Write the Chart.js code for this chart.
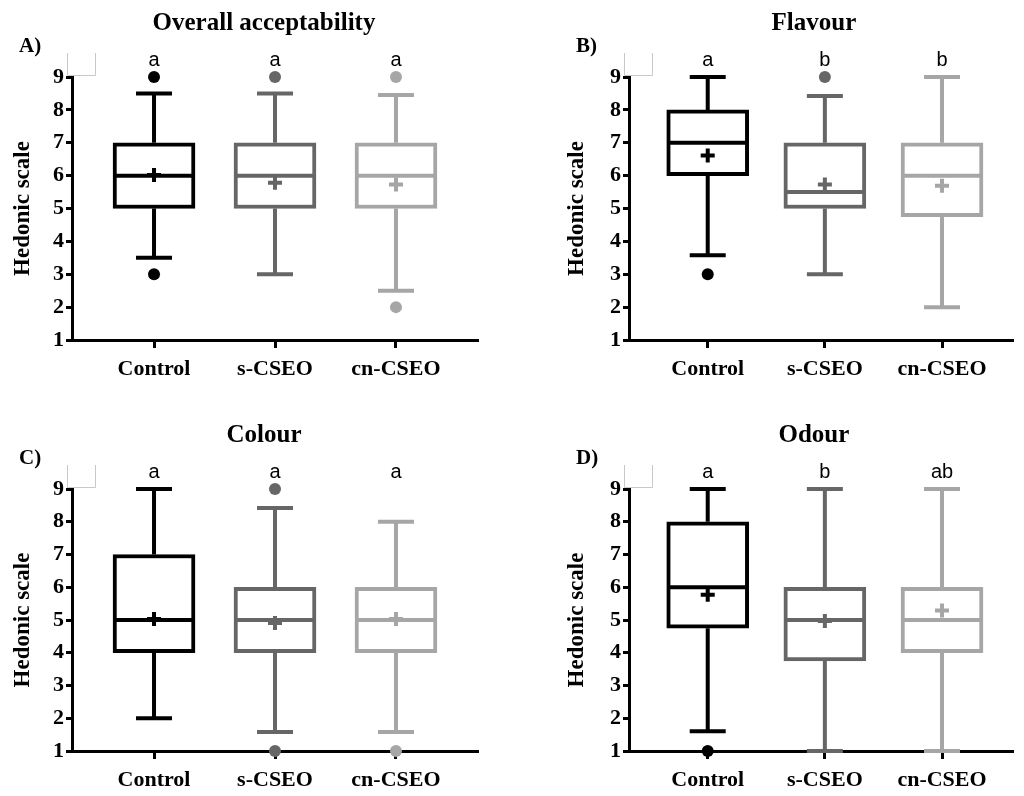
<!DOCTYPE html>
<html>
<head>
<meta charset="utf-8">
<script src="https://cdn.jsdelivr.net/npm/chart.js@4.4.0/dist/chart.umd.min.js"></script>
<style>
  body { margin: 0; background: #fff; }
  .panel { position: absolute; width: 512px; height: 398px; }
</style>
</head>
<body>
<div class="panel" style="left:0;top:0"><canvas id="chartA"></canvas></div>
<div class="panel" style="left:512px;top:0"><canvas id="chartB"></canvas></div>
<div class="panel" style="left:0;top:398px"><canvas id="chartC"></canvas></div>
<div class="panel" style="left:512px;top:398px"><canvas id="chartD"></canvas></div>
<script>
const groups = ['Control', 's-CSEO', 'cn-CSEO'];
const groupColors = ['#000000', '#666666', '#a6a6a6'];

// A) Overall acceptability
const overallLow = [3.5, 3, 2.5];
const overallQ1 = [5, 5, 5];
const overallMedian = [6, 6, 6];
const overallQ3 = [7, 7, 7];
const overallHigh = [8.5, 8.5, 8.45];
const overallMean = [6.02, 5.78, 5.73];
const overallOutliers = [[9, 3], [9], [9, 2]];
const overallLetters = ['a', 'a', 'a'];

// B) Flavour
const flavourLow = [3.58, 3, 2];
const flavourQ1 = [6, 5, 4.75];
const flavourMedian = [7, 5.5, 6];
const flavourQ3 = [8, 7, 7];
const flavourHigh = [9, 8.42, 9];
const flavourMean = [6.61, 5.73, 5.69];
const flavourOutliers = [[3], [9], []];
const flavourLetters = ['a', 'b', 'b'];

// C) Colour
const colourLow = [2, 1.58, 1.58];
const colourQ1 = [4, 4, 4];
const colourMedian = [5, 5, 5];
const colourQ3 = [7, 6, 6];
const colourHigh = [9, 8.42, 8];
const colourMean = [5.03, 4.91, 5.03];
const colourOutliers = [[], [9, 1], [1]];
const colourLetters = ['a', 'a', 'a'];

// D) Odour
const odourLow = [1.6, 1, 1];
const odourQ1 = [4.75, 3.75, 4];
const odourMedian = [6, 5, 5];
const odourQ3 = [8, 6, 6];
const odourHigh = [9, 9, 9];
const odourMean = [5.77, 4.97, 5.29];
const odourOutliers = [[1], [], []];
const odourLetters = ['a', 'b', 'ab'];

Chart.defaults.font.family = "'Liberation Serif', 'Times New Roman', serif";
Chart.defaults.color = '#000';

// whiskers, medians, titles and significance letters
const boxExtras = {
  id: 'boxExtras',
  beforeDatasetsDraw(chart, args, opts) {
    const ctx = chart.ctx;
    const x = chart.scales.x, y = chart.scales.y;
    ctx.save();
    ctx.lineWidth = 4;
    opts.low.forEach((lo, i) => {
      const px = x.getPixelForValue(i + 1);
      ctx.strokeStyle = groupColors[i];
      ctx.beginPath();
      ctx.moveTo(px, y.getPixelForValue(opts.q3[i]));
      ctx.lineTo(px, y.getPixelForValue(opts.high[i]));
      ctx.moveTo(px, y.getPixelForValue(opts.q1[i]));
      ctx.lineTo(px, y.getPixelForValue(lo));
      ctx.moveTo(px - 18, y.getPixelForValue(opts.high[i]));
      ctx.lineTo(px + 18, y.getPixelForValue(opts.high[i]));
      ctx.moveTo(px - 18, y.getPixelForValue(lo));
      ctx.lineTo(px + 18, y.getPixelForValue(lo));
      ctx.stroke();
    });
    ctx.restore();
  },
  afterDatasetsDraw(chart, args, opts) {
    const ctx = chart.ctx;
    const x = chart.scales.x, y = chart.scales.y;
    const area = chart.chartArea;
    ctx.save();
    ctx.lineWidth = 4;
    opts.median.forEach((m, i) => {
      const px = x.getPixelForValue(i + 1);
      const py = y.getPixelForValue(m);
      ctx.strokeStyle = groupColors[i];
      ctx.beginPath();
      ctx.moveTo(px - 39, py);
      ctx.lineTo(px + 39, py);
      ctx.stroke();
    });

    // faint corner box
    ctx.strokeStyle = '#c8c8c8';
    ctx.lineWidth = 1;
    ctx.beginPath();
    ctx.moveTo(area.left - 4.5, area.top - 24);
    ctx.lineTo(area.left - 4.5, area.top - 1.5);
    ctx.lineTo(area.left + 23.5, area.top - 1.5);
    ctx.lineTo(area.left + 23.5, area.top - 24);
    ctx.stroke();

    ctx.fillStyle = '#000';
    ctx.textBaseline = 'middle';
    ctx.textAlign = 'center';
    ctx.font = "bold 25px 'Liberation Serif'";
    ctx.fillText(opts.title, x.getPixelForValue(2) - 11, area.top - 53);
    ctx.textAlign = 'left';
    ctx.font = "bold 21px 'Liberation Serif'";
    ctx.fillText(opts.label, area.left - 53, area.top - 30);
    ctx.textAlign = 'center';
    ctx.font = "20px 'Liberation Sans'";
    opts.letters.forEach((t, i) => {
      ctx.fillText(t, x.getPixelForValue(i + 1), area.top - 17);
    });
    ctx.restore();
  }
};

function makeChart(id, p, left, top) {
  const outlierPts = [];
  const outlierCols = [];
  p.outliers.forEach((list, i) => list.forEach(v => {
    outlierPts.push({ x: i + 1, y: v });
    outlierCols.push(groupColors[i]);
  }));

  return new Chart(document.getElementById(id), {
    type: 'bar',
    data: {
      datasets: [
        {
          type: 'scatter',
          data: groups.map((g, i) => ({ x: i + 1, y: p.mean[i] })),
          pointStyle: 'cross',
          pointRadius: 7,
          pointBorderWidth: 4,
          pointBorderColor: groupColors,
          clip: false,
          order: 0,
        },
        {
          type: 'scatter',
          data: outlierPts,
          pointRadius: 6,
          pointBorderWidth: 0,
          pointBackgroundColor: outlierCols,
          clip: false,
          order: 1,
        },
        {
          type: 'bar',
          data: groups.map((g, i) => ({ x: i + 1, y: [p.q1[i], p.q3[i]] })),
          backgroundColor: '#fff',
          borderColor: groupColors,
          borderWidth: 4,
          borderSkipped: false,
          barThickness: 82,
          grouped: false,
          clip: false,
          order: 2,
        },
      ],
    },
    options: {
      responsive: true,
      maintainAspectRatio: false,
      animation: false,
      layout: { padding: { top: top ? 77 : 91, right: left ? 34 : 0, left: 0, bottom: 0 } },
      plugins: {
        legend: { display: false },
        tooltip: { enabled: false },
        boxExtras: p,
      },
      scales: {
        x: {
          type: 'linear',
          offset: false,
          min: left ? 0.322 : 0.328,
          max: left ? 3.678 : 3.606,
          afterBuildTicks: (s) => { s.ticks = groups.map((g, i) => ({ value: i + 1 })); },
          afterFit: (s) => { s.height = top ? 58 : 45; },
          ticks: {
            callback: (v) => groups[Math.round(v) - 1],
            font: { size: 22, weight: 'bold' },
            padding: 8,
            autoSkip: false,
            maxRotation: 0,
          },
          grid: { offset: false, drawOnChartArea: false, tickLength: 8, tickWidth: 3, tickColor: '#000' },
          border: { color: '#000', width: 3 },
        },
        y: {
          min: 1,
          max: 9,
          afterFit: (s) => { s.width = left ? 72 : 117; },
          ticks: { stepSize: 1, font: { size: 22, weight: 'bold' }, padding: 2 },
          grid: { drawOnChartArea: false, tickLength: 6, tickWidth: 3, tickColor: '#000' },
          border: { color: '#000', width: 3 },
          title: {
            display: true,
            text: 'Hedonic scale',
            font: { size: 23, weight: 'bold' },
            padding: { top: left ? 9 : 51, bottom: 0 },
          },
        },
      },
    },
    plugins: [boxExtras],
  });
}

makeChart('chartA', {
  title: 'Overall acceptability', label: 'A)', letters: overallLetters,
  low: overallLow, q1: overallQ1, median: overallMedian, q3: overallQ3,
  high: overallHigh, mean: overallMean, outliers: overallOutliers,
}, true, true);

makeChart('chartB', {
  title: 'Flavour', label: 'B)', letters: flavourLetters,
  low: flavourLow, q1: flavourQ1, median: flavourMedian, q3: flavourQ3,
  high: flavourHigh, mean: flavourMean, outliers: flavourOutliers,
}, false, true);

makeChart('chartC', {
  title: 'Colour', label: 'C)', letters: colourLetters,
  low: colourLow, q1: colourQ1, median: colourMedian, q3: colourQ3,
  high: colourHigh, mean: colourMean, outliers: colourOutliers,
}, true, false);

makeChart('chartD', {
  title: 'Odour', label: 'D)', letters: odourLetters,
  low: odourLow, q1: odourQ1, median: odourMedian, q3: odourQ3,
  high: odourHigh, mean: odourMean, outliers: odourOutliers,
}, false, false);
</script>
</body>
</html>
